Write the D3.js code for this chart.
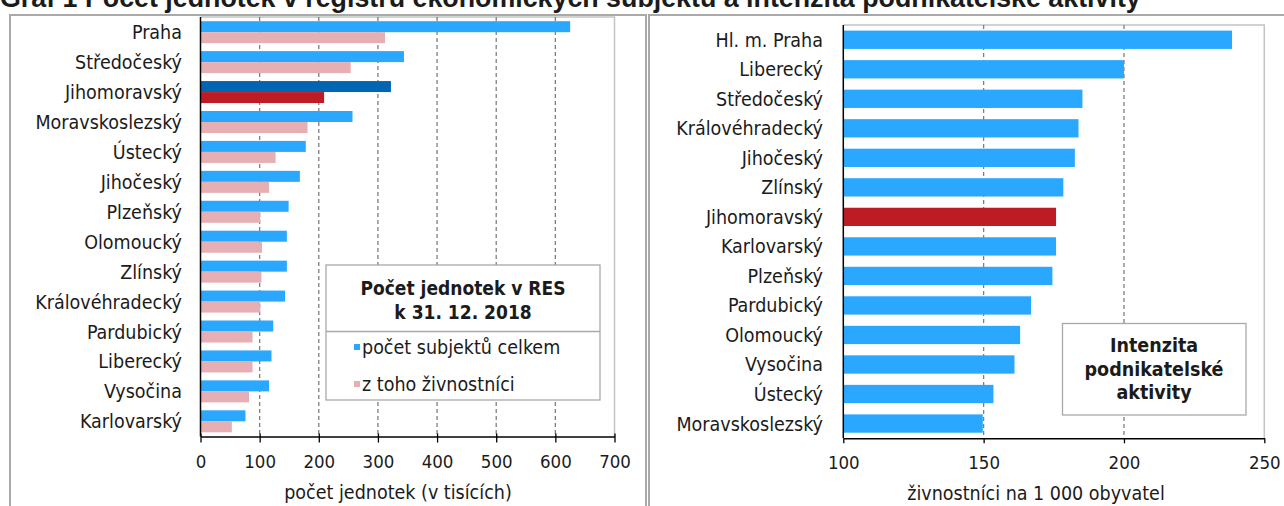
<!DOCTYPE html>
<html>
<head>
<meta charset="utf-8">
<script src="https://cdn.jsdelivr.net/npm/d3@7"></script>
<style>
  body { margin: 0; background: #fff; }
  svg { display: block; }
  text { fill: #1b1b1b; }
</style>
</head>
<body>
<div class="canvas"></div>
<script>
const width = 1284;
const height = 506;

// Data
const krajeRes = ["Praha", "Středočeský", "Jihomoravský", "Moravskoslezský", "Ústecký", "Jihočeský",
  "Plzeňský", "Olomoucký", "Zlínský", "Královéhradecký", "Pardubický", "Liberecký", "Vysočina", "Karlovarský"];
const subjektyCelkem = [625, 344, 322, 257, 178, 168, 149, 146, 146, 143, 123, 120, 116, 76];
const zivnostnici = [312, 254, 209, 181, 127, 116, 101, 104, 103, 101, 88, 88, 82, 53];
const resTicks = [0, 100, 200, 300, 400, 500, 600, 700];

const krajeIntenzita = ["Hl. m. Praha", "Liberecký", "Středočeský", "Královéhradecký", "Jihočeský", "Zlínský",
  "Jihomoravský", "Karlovarský", "Plzeňský", "Pardubický", "Olomoucký", "Vysočina", "Ústecký", "Moravskoslezský"];
const intenzita = [238.5, 200, 185.2, 183.8, 182.5, 178.4, 175.8, 175.8, 174.5, 166.9, 163, 161, 153.5, 149.7];
const intTicks = [100, 150, 200, 250];

const highlight = "Jihomoravský";
const font = "'DejaVu Sans Condensed', 'DejaVu Sans', sans-serif";
const blue = "#2aa7ff", pink = "#e6afb4", darkBlue = "#0066b2", red = "#be1c24";

const svg = d3
  .select(".canvas")
  .append("svg")
  .attr("width", width)
  .attr("height", height);

// Title (cut at the top as in the source)
const title = svg
  .append("text")
  .attr("x", 0)
  .attr("y", 7)
  .style("font-family", "'Liberation Sans', Arial, sans-serif")
  .style("font-weight", "bold")
  .style("font-size", "20px")
  .text("Graf 1 Počet jednotek v registru ekonomických subjektů a intenzita podnikatelské aktivity");
const tw = title.node().getComputedTextLength();
title.style("font-size", (20 * 1141 / tw) + "px");

// Chart frames
svg.append("rect").attr("x", 10).attr("y", 15).attr("width", 636).attr("height", 520)
  .attr("fill", "none").attr("stroke", "#a9a9a9").attr("stroke-width", 2);
svg.append("rect").attr("x", 649).attr("y", 15).attr("width", 660).attr("height", 520)
  .attr("fill", "none").attr("stroke", "#a9a9a9").attr("stroke-width", 2);

// ---------- Left chart ----------
const xL = d3.scaleLinear().domain([0, 700]).range([200.5, 614.5]);
const yL = d3.scaleBand().domain(krajeRes).range([17, 436.5]).paddingInner(0.265).paddingOuter(0.14);
const ySub = d3.scaleBand().domain(["celkem", "zivn"]).range([0, yL.bandwidth()]);

const left = svg.append("g");

// plot border (top + right)
left.append("path")
  .attr("d", `M${xL(0)},17H${xL(700)}V436.5`)
  .attr("fill", "none").attr("stroke", "#c4c4c4").attr("stroke-width", 1.5);

// gridlines
left.selectAll(".grid")
  .data(resTicks.slice(1, -1))
  .enter()
  .append("line")
  .attr("x1", d => xL(d)).attr("x2", d => xL(d))
  .attr("y1", 17).attr("y2", 436.5)
  .attr("stroke", "#7f7f7f").attr("stroke-width", 1.3).attr("stroke-dasharray", "4,3");

const rows = krajeRes.map((k, i) => ({ k, c: subjektyCelkem[i], z: zivnostnici[i] }));

left.selectAll(".bc")
  .data(rows)
  .enter()
  .append("rect")
  .attr("x", xL(0))
  .attr("y", d => yL(d.k) + ySub("celkem"))
  .attr("width", d => xL(d.c) - xL(0))
  .attr("height", ySub.bandwidth())
  .attr("fill", d => d.k === highlight ? darkBlue : blue);

left.selectAll(".bz")
  .data(rows)
  .enter()
  .append("rect")
  .attr("x", xL(0))
  .attr("y", d => yL(d.k) + ySub("zivn"))
  .attr("width", d => xL(d.z) - xL(0))
  .attr("height", ySub.bandwidth())
  .attr("fill", d => d.k === highlight ? red : pink);

// category labels
left.selectAll(".lab")
  .data(krajeRes)
  .enter()
  .append("text")
  .attr("x", 182)
  .attr("y", d => yL(d) + yL.bandwidth() / 2 + 7)
  .attr("text-anchor", "end")
  .style("font-family", font)
  .style("font-size", "19.5px")
  .text(d => d);

// y axis line
left.append("line").attr("x1", xL(0)).attr("x2", xL(0)).attr("y1", 17).attr("y2", 436.5)
  .attr("stroke", "#000").attr("stroke-width", 1.5);

// x axis
const xAxisL = d3.axisBottom(xL).tickValues(resTicks).tickSize(6).tickSizeOuter(0).tickPadding(6);
const gxL = left.append("g")
  .attr("transform", "translate(0,436.5)")
  .call(xAxisL);
gxL.select(".domain").attr("stroke", "#000").attr("stroke-width", 1.5);
gxL.selectAll(".tick line").attr("y1", -3).attr("stroke", "#000").attr("stroke-width", 1.3);
gxL.selectAll(".tick text")
  .attr("y", 31).attr("dy", null)
  .style("font-family", font).style("font-size", "18.5px").style("fill", "#1b1b1b");

left.append("text")
  .attr("x", 398).attr("y", 499)
  .attr("text-anchor", "middle")
  .style("font-family", font).style("font-size", "19.5px")
  .text("počet jednotek (v tisících)");

// legend
const lg = left.append("g");
lg.append("rect").attr("x", 326).attr("y", 265).attr("width", 274).attr("height", 135)
  .attr("fill", "#fff").attr("stroke", "#a9a9a9").attr("stroke-width", 1.3);
lg.append("line").attr("x1", 326).attr("x2", 600).attr("y1", 331.5).attr("y2", 331.5)
  .attr("stroke", "#a9a9a9").attr("stroke-width", 1.3);
lg.selectAll(".lt")
  .data(["Počet jednotek v RES", "k 31. 12. 2018"])
  .enter()
  .append("text")
  .attr("x", 463)
  .attr("y", (d, i) => 294.5 + i * 24)
  .attr("text-anchor", "middle")
  .style("font-family", font).style("font-weight", "bold").style("font-size", "19px")
  .text(d => d);
const legendItems = [
  { label: "počet subjektů celkem", color: blue },
  { label: "z toho živnostníci", color: pink }
];
const li = lg.selectAll(".li")
  .data(legendItems)
  .enter()
  .append("g")
  .attr("transform", (d, i) => `translate(354,${347 + i * 37})`);
li.append("rect").attr("x", 0).attr("y", -3).attr("width", 6).attr("height", 6).attr("fill", d => d.color);
li.append("text").attr("x", 8).attr("y", 7)
  .style("font-family", font).style("font-size", "19.5px")
  .text(d => d.label);

// ---------- Right chart ----------
const xR = d3.scaleLinear().domain([100, 250]).range([843.3, 1264.3]);
const yR = d3.scaleBand().domain(krajeIntenzita).range([25, 438.3]).paddingInner(0.38).paddingOuter(0.19);

const right = svg.append("g");

right.append("path")
  .attr("d", `M${xR(100)},25H${xR(250)}V438.3`)
  .attr("fill", "none").attr("stroke", "#c4c4c4").attr("stroke-width", 1.5);

right.selectAll(".grid")
  .data(intTicks.slice(1, -1))
  .enter()
  .append("line")
  .attr("x1", d => xR(d)).attr("x2", d => xR(d))
  .attr("y1", 25).attr("y2", 438.3)
  .attr("stroke", "#7f7f7f").attr("stroke-width", 1.3).attr("stroke-dasharray", "4,3");

right.selectAll(".bar")
  .data(krajeIntenzita.map((k, i) => ({ k, v: intenzita[i] })))
  .enter()
  .append("rect")
  .attr("x", xR(100))
  .attr("y", d => yR(d.k))
  .attr("width", d => xR(d.v) - xR(100))
  .attr("height", yR.bandwidth())
  .attr("fill", d => d.k === highlight ? red : blue);

right.selectAll(".lab")
  .data(krajeIntenzita)
  .enter()
  .append("text")
  .attr("x", 823)
  .attr("y", d => yR(d) + yR.bandwidth() / 2 + 7)
  .attr("text-anchor", "end")
  .style("font-family", font)
  .style("font-size", "19.5px")
  .text(d => d);

right.append("line").attr("x1", xR(100)).attr("x2", xR(100)).attr("y1", 25).attr("y2", 438.3)
  .attr("stroke", "#000").attr("stroke-width", 1.5);

const xAxisR = d3.axisBottom(xR).tickValues(intTicks).tickSize(5).tickSizeOuter(0).tickPadding(6);
const gxR = right.append("g")
  .attr("transform", "translate(0,438.3)")
  .call(xAxisR);
gxR.select(".domain").attr("stroke", "#000").attr("stroke-width", 1.5);
gxR.selectAll(".tick line").attr("stroke", "#000").attr("stroke-width", 1.3);
gxR.selectAll(".tick text")
  .attr("y", 31).attr("dy", null)
  .style("font-family", font).style("font-size", "18.5px").style("fill", "#1b1b1b");

right.append("text")
  .attr("x", 1036).attr("y", 500)
  .attr("text-anchor", "middle")
  .style("font-family", font).style("font-size", "19.5px")
  .text("živnostníci na 1 000 obyvatel");

// text box
const tb = right.append("g");
tb.append("rect").attr("x", 1062.5).attr("y", 323.5).attr("width", 183.5).attr("height", 91.5)
  .attr("fill", "#fff").attr("stroke", "#a9a9a9").attr("stroke-width", 1.3);
tb.selectAll("text")
  .data(["Intenzita", "podnikatelské", "aktivity"])
  .enter()
  .append("text")
  .attr("x", 1154)
  .attr("y", (d, i) => 352 + i * 23.5)
  .attr("text-anchor", "middle")
  .style("font-family", font).style("font-weight", "bold").style("font-size", "19.5px")
  .text(d => d);
</script>
</body>
</html>
